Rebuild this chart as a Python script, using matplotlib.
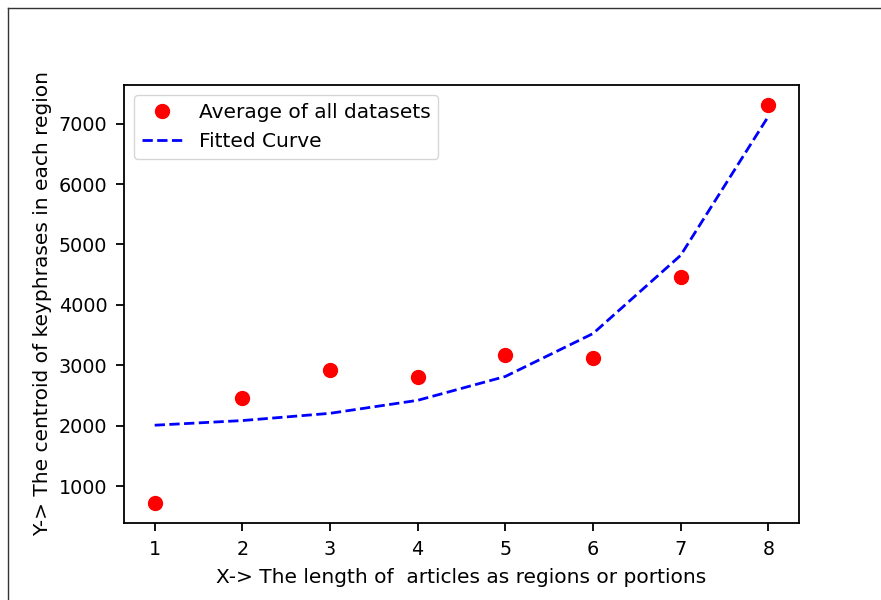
import matplotlib
matplotlib.use("Agg")
import matplotlib.pyplot as plt
from matplotlib.lines import Line2D

x = [1, 2, 3, 4, 5, 6, 7, 8]
avg = [719, 2465, 2930, 2800, 3175, 3125, 4455, 7310]
fitted = [2008, 2085, 2205, 2420, 2815, 3525, 4820, 7120]

fig = plt.figure(figsize=(8.81, 6.0), dpi=100)
ax = fig.add_axes([124/881, 1-523/600, (799-124)/881, (523-85)/600])

ax.plot(x, avg, 'o', color='red', markersize=10, label='Average of all datasets')
ax.plot(x, fitted, '--', color='blue', linewidth=2, label='Fitted Curve')

ax.set_xlabel('X-> The length of  articles as regions or portions', fontsize=14.5, labelpad=7)
ax.set_ylabel('Y-> The centroid of keyphrases in each region', fontsize=14.5, labelpad=5)
ax.tick_params(labelsize=13.8, width=1.3, length=6, pad=6)
for s in ax.spines.values():
    s.set_linewidth(1.3)
ax.set_yticks([1000, 2000, 3000, 4000, 5000, 6000, 7000])
ax.legend(loc='upper left', fontsize=14.5)

fig.add_artist(Line2D([7.5/881, 7.5/881], [0, 1-7.5/600], color='#333333', linewidth=1))
fig.add_artist(Line2D([7.5/881, 1], [1-7.5/600, 1-7.5/600], color='#333333', linewidth=1))

fig.savefig('out.png', dpi=100)
